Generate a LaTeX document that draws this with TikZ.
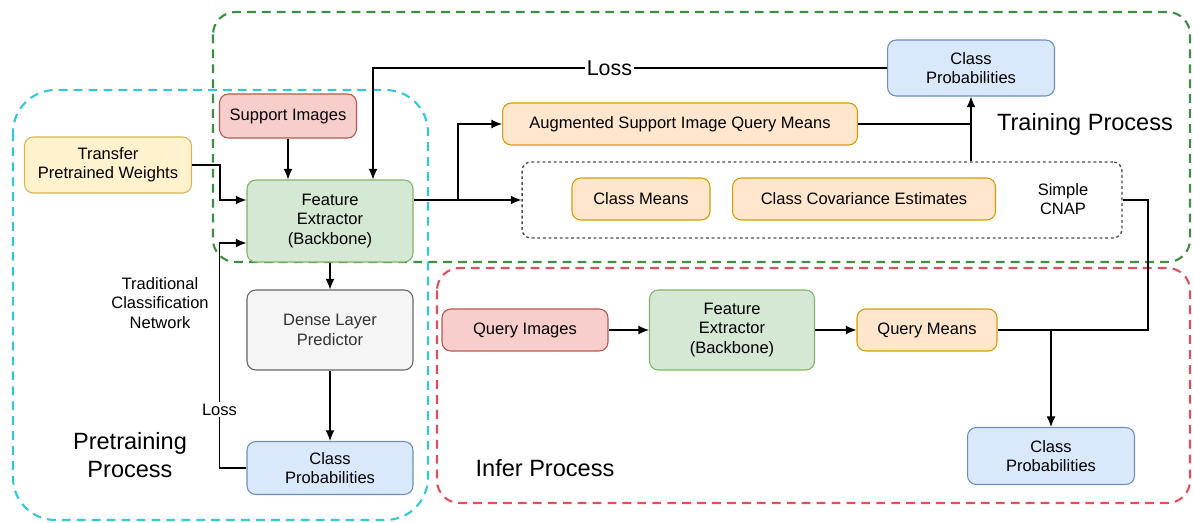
\documentclass[tikz,border=0pt]{standalone}
\usepackage{fontspec}
\setmainfont{Liberation Sans}
\usetikzlibrary{arrows.meta}
\definecolor{redfill}{HTML}{F8CECC}
\definecolor{reddraw}{HTML}{B85450}
\definecolor{yelfill}{HTML}{FFF2CC}
\definecolor{yeldraw}{HTML}{D6B656}
\definecolor{grnfill}{HTML}{D5E8D4}
\definecolor{grndraw}{HTML}{82B366}
\definecolor{gryfill}{HTML}{F5F5F5}
\definecolor{grydraw}{HTML}{666666}
\definecolor{blufill}{HTML}{DAE8FC}
\definecolor{bludraw}{HTML}{6C8EBF}
\definecolor{orafill}{HTML}{FFE6CC}
\definecolor{oradraw}{HTML}{D79B00}
\definecolor{traingreen}{HTML}{3E8E41}
\definecolor{precyan}{HTML}{35C6DA}
\definecolor{inferred}{HTML}{E0505C}
\begin{document}
\begin{tikzpicture}[x=0.02cm,y=-0.02cm,>={Latex[length=6pt,width=5pt]},font=\fontsize{9.4}{11}\selectfont]
\tikzstyle{box}=[draw,rounded corners=5pt,align=center,inner sep=2pt,line width=0.6pt]
\tikzstyle{redbox}=[box,fill=redfill,draw=reddraw]
\tikzstyle{yelbox}=[box,fill=yelfill,draw=yeldraw]
\tikzstyle{grnbox}=[box,fill=grnfill,draw=grndraw]
\tikzstyle{grybox}=[box,fill=gryfill,draw=grydraw,text=black!80]
\tikzstyle{blubox}=[box,fill=blufill,draw=bludraw]
\tikzstyle{orabox}=[box,fill=orafill,draw=oradraw]
\tikzstyle{region}=[line width=1.2pt,dash pattern=on 5pt off 3.5pt]
\tikzstyle{bigtext}=[font=\fontsize{13.4}{15.5}\selectfont,align=center]
\tikzstyle{smalltext}=[align=center]
\tikzstyle{conn}=[draw,line width=0.6pt]
\useasboundingbox (0,0) rectangle (1193,523);
% process regions
\draw[region,draw=traingreen,rounded corners=0.45cm] (213,12) rectangle (1190,262);
\draw[region,draw=precyan,rounded corners=0.85cm] (13,90) rectangle (428,520);
\draw[region,draw=inferred,rounded corners=0.45cm] (437,268) rectangle (1190,503);
% pretraining
    \node[redbox,minimum width=2.74cm,minimum height=0.88cm] (support) at (288,116) {Support Images};
    \node[yelbox,minimum width=3.34cm,minimum height=1.12cm] (transfer) at (108,165) {Transfer\\Pretrained Weights};
    \node[grnbox,minimum width=3.32cm,minimum height=1.64cm] (fe) at (330,221) {Feature\\Extractor\\(Backbone)};
    \node[grybox,minimum width=3.32cm,minimum height=1.6cm] (dense) at (330,330) {Dense Layer\\Predictor};
    \node[blubox,minimum width=3.32cm,minimum height=1.06cm] (cppre) at (330,468) {Class\\Probabilities};
    \node[smalltext] (tradnet) at (160,303) {Traditional\\Classification\\Network};
    \node[bigtext] (pretext) at (130,455) {Pretraining\\Process};
% training
    \node[draw=black!70,dash pattern=on 1.6pt off 1.6pt,line width=0.8pt,rounded corners=5pt,minimum width=12cm,minimum height=1.52cm] (cnap) at (822,200) {};
    \node[orabox,minimum width=7.1cm,minimum height=0.84cm] (augm) at (680,124) {Augmented Support Image Query Means};
    \node[orabox,minimum width=2.76cm,minimum height=0.84cm] (cmeans) at (641,199) {Class Means};
    \node[orabox,minimum width=5.26cm,minimum height=0.84cm] (ccov) at (864,199) {Class Covariance Estimates};
    \node[smalltext] (cnaptext) at (1063,199) {Simple\\CNAP};
    \node[blubox,minimum width=3.34cm,minimum height=1.12cm] (cptrain) at (971,68) {Class\\Probabilities};
    \node[bigtext] (traintext) at (1085,124) {Training Process};
% infer
    \node[redbox,minimum width=3.32cm,minimum height=0.84cm] (query) at (525,330) {Query Images};
    \node[grnbox,minimum width=3.3cm,minimum height=1.6cm] (fe2) at (732,330) {Feature\\Extractor\\(Backbone)};
    \node[orabox,minimum width=2.8cm,minimum height=0.84cm] (qmeans) at (927,330) {Query Means};
    \node[blubox,minimum width=3.34cm,minimum height=1.14cm] (cpinf) at (1051,456) {Class\\Probabilities};
    \node[bigtext] (infertext) at (545,468) {Infer Process};
    \coordinate (split) at (458,200);
    \coordinate (cnapturn) at (1148,200);
% connectors
    \path[conn,->] (support) -- (fe.north -| support);
    \path[conn,->] (transfer.east) -- ++(28,0) |- ([yshift=0.42cm]fe.west);
    \path[conn,->] (cppre.west) -- ++(-27,0) |- node[pos=0.13,fill=white,inner sep=1pt] {Loss} ([yshift=-0.44cm]fe.west);
    \path[conn,->] (fe) -- (dense);
    \path[conn,->] (dense) -- (cppre);
    \path[conn,->] (cnap.west -| fe.east) -- (cnap.west);
    \path[conn,->] (split) |- (augm.west);
    \path[conn] (augm.east) -- (augm.east -| cptrain.south);
    \path[conn,->] (cnap.north -| cptrain.south) -- (cptrain.south);
    \path[conn,->] (cptrain.west) -| node[pos=0.27,fill=white,inner sep=1pt,font=\fontsize{12.2}{14}\selectfont] {Loss} ([xshift=0.86cm]fe.north);
    \path[conn,->] (query) -- (fe2);
    \path[conn,->] (fe2) -- (qmeans);
    \path[conn] (qmeans.east) -| (cnapturn) -- (cnap.east);
    \path[conn,->] (qmeans.east -| cpinf.north) -- (cpinf.north);
\end{tikzpicture}
\end{document}
